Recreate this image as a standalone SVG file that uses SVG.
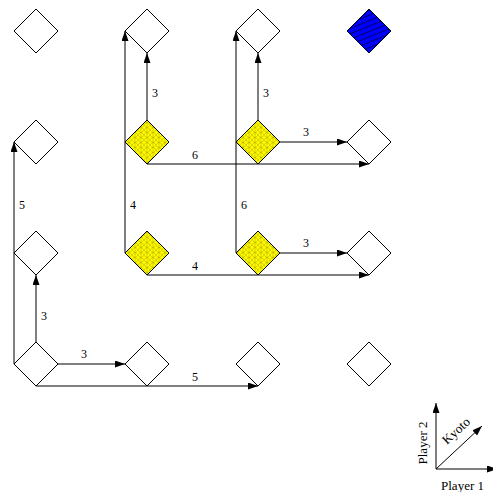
<svg xmlns="http://www.w3.org/2000/svg" width="493" height="492" viewBox="0 0 493 492">
<style>
.n{stroke:#000;stroke-width:1}
.w{fill:#fff}
.y{fill:url(#yel)}
.b{fill:url(#blu)}
.e{fill:none;stroke:#000;stroke-width:1}
.a{marker-end:url(#ah)}
.l{font-family:"Liberation Serif","Times New Roman",serif;font-size:12px;fill:#000;text-anchor:middle}
.g{font-family:"Liberation Serif","Times New Roman",serif;font-size:13px;fill:#000;text-anchor:middle}
</style>
<defs>
<marker id="ah" markerUnits="userSpaceOnUse" markerWidth="11" markerHeight="8" refX="10" refY="3.5" orient="auto" viewBox="0 0 11 8">
<path d="M0,0 L10,3.5 L0,7 z" fill="#000"/>
</marker>
<pattern id="yel" patternUnits="userSpaceOnUse" width="6" height="5">
<rect width="6" height="5" fill="#ffff00"/>
<path d="M0,0 Q3,5 6,0 M0,5 Q3,0 6,5 M3,0 V5" fill="none" stroke="#b0a000" stroke-width="0.5"/>
</pattern>
<pattern id="blu" patternUnits="userSpaceOnUse" width="5" height="5" patternTransform="rotate(-22)">
<rect width="5" height="5" fill="#0000ff"/>
<path d="M0,2.5 H5" stroke="#000" stroke-width="0.6"/>
</pattern>
</defs>
<g id="connectors">
<path class="e a" d="M36,342 V275"/><text class="l" x="44" y="320">3</text>
<path class="e a" d="M58,364 H125"/><text class="l" x="84" y="358">3</text>
<path class="e a" d="M14,364 V142"/><text class="l" x="22" y="209">5</text>
<path class="e a" d="M36,386 H258"/><text class="l" x="195" y="381">5</text>
<path class="e a" d="M147,120 V53"/><text class="l" x="155" y="97">3</text>
<path class="e a" d="M147,164 H369"/><text class="l" x="195" y="159">6</text>
<path class="e a" d="M125,253 V31"/><text class="l" x="133" y="209">4</text>
<path class="e a" d="M147,275 H369"/><text class="l" x="195" y="270">4</text>
<path class="e a" d="M258,120 V53"/><text class="l" x="266" y="97">3</text>
<path class="e a" d="M280,142 H347"/><text class="l" x="306" y="136">3</text>
<path class="e a" d="M236,253 V31"/><text class="l" x="244" y="209">6</text>
<path class="e a" d="M280,253 H347"/><text class="l" x="306" y="247">3</text>
</g>
<g id="n00"><polygon class="n w" points="36,9 58,31 36,53 14,31"/></g>
<g id="n10"><polygon class="n w" points="147,9 169,31 147,53 125,31"/></g>
<g id="n20"><polygon class="n w" points="258,9 280,31 258,53 236,31"/></g>
<g id="n30"><polygon class="n b" points="369,9 391,31 369,53 347,31"/></g>
<g id="n01"><polygon class="n w" points="36,120 58,142 36,164 14,142"/></g>
<g id="n11"><polygon class="n y" points="147,120 169,142 147,164 125,142"/></g>
<g id="n21"><polygon class="n y" points="258,120 280,142 258,164 236,142"/></g>
<g id="n31"><polygon class="n w" points="369,120 391,142 369,164 347,142"/></g>
<g id="n02"><polygon class="n w" points="36,231 58,253 36,275 14,253"/></g>
<g id="n12"><polygon class="n y" points="147,231 169,253 147,275 125,253"/></g>
<g id="n22"><polygon class="n y" points="258,231 280,253 258,275 236,253"/></g>
<g id="n32"><polygon class="n w" points="369,231 391,253 369,275 347,253"/></g>
<g id="n03"><polygon class="n w" points="36,342 58,364 36,386 14,364"/></g>
<g id="n13"><polygon class="n w" points="147,342 169,364 147,386 125,364"/></g>
<g id="n23"><polygon class="n w" points="258,342 280,364 258,386 236,364"/></g>
<g id="n33"><polygon class="n w" points="369,342 391,364 369,386 347,364"/></g>
<g id="legend">
<path class="e a" d="M436,469 V403"/>
<path class="e a" d="M436,469 H497"/>
<path class="e a" d="M436,469 L482,426"/>
<text class="g" transform="translate(427,443) rotate(-90)">Player 2</text>
<text class="g" transform="translate(459,434) rotate(-43)">Kyoto</text>
<text class="g" x="462.5" y="490">Player 1</text>
</g>
</svg>
